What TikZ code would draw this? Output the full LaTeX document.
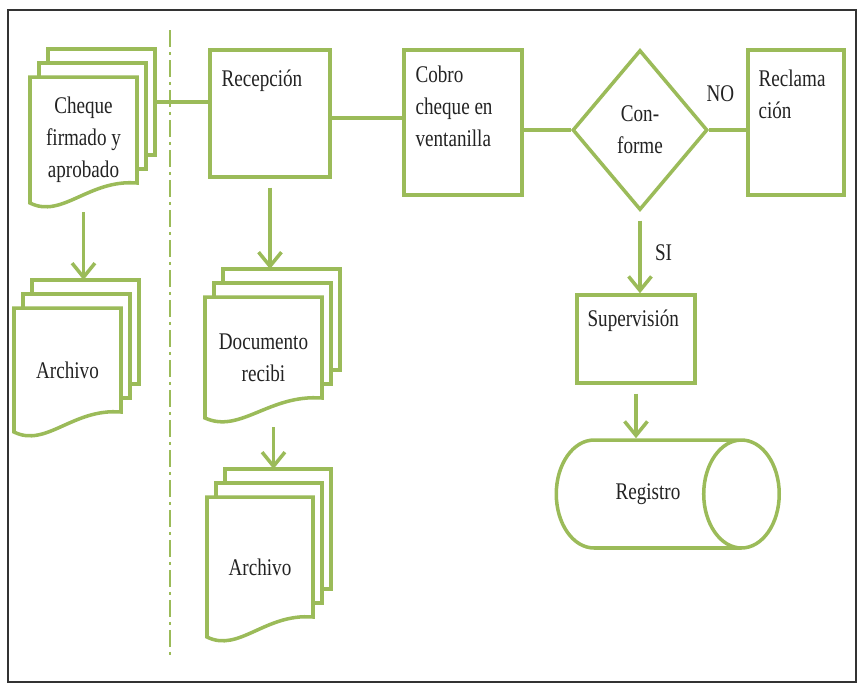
\documentclass[tikz,border=0pt]{standalone}
\usepackage{fontspec}
\setmainfont{Liberation Serif}[FakeStretch=0.8]
\usepackage{tikz}
\usetikzlibrary{positioning,shapes.geometric,arrows.meta,calc}
\definecolor{mygreen}{RGB}{155,187,89}
\definecolor{mytext}{RGB}{35,35,35}
% stack of three sheets: name, x, y, width, height, text
\newcommand{\docstack}[6]{%
  \foreach \k in {2,1}
    \draw[sheet] ({#2+9*\k},{#3-14*\k}) rectangle ++(#4,#5);
  \draw[sheet] (#2,#3) -- ({#2+#4},#3) -- ({#2+#4},{#3+#5})
    .. controls ({#2+0.55*#4},{#3+#5-4}) and ({#2+0.3*#4},{#3+#5+36}) .. (#2,{#3+#5+20}) -- cycle;
  \node[doctext,minimum width=#4*0.02cm,minimum height=(#5+20)*0.02cm] (#1) at ({#2+#4/2},{#3+(#5+20)/2}) {#6};
  \coordinate (#1-top) at ({#2+18+#4/2},{#3-28});
  \coordinate (#1-east) at ({#2+18+#4},{#3-28+#5/2});
}
\begin{document}
\begin{tikzpicture}[x=0.02cm,y=-0.02cm,
          font=\fontsize{13.6}{18.2}\selectfont,
          every node/.append style={text=mytext},
          box/.style={draw=mygreen,line width=2pt,fill=white,inner sep=0pt},
          sheet/.style={draw=mygreen,line width=2pt,fill=white},
          doctext/.style={align=center,inner sep=0pt},
          lbl/.style={anchor=north west,inner sep=0pt,align=left},
          conn/.style={mygreen,line width=2.6pt},
          arr/.style={mygreen,line width=2pt,-{Straight Barb[length=8pt,width=13pt]},shorten <=5pt}
          ]
          \useasboundingbox (0,0) rectangle (862,691);
          % the frame
          \draw[black!80,line width=0.8pt] (8,10) rectangle (856,682);
          % the divider
          \draw[mygreen,line width=1.6pt,dash pattern=on 0.34cm off 0.1cm on 0.06cm off 0.1cm] (170,30) -- (170,658);
          % the documents
          \docstack{cheque}{30}{77}{107}{106}{Cheque\\firmado y\\aprobado}
          \docstack{archA}{14}{308}{107}{104}{Archivo}
          \docstack{docrec}{205}{297}{117}{101}{Documento\\recibi}
          \docstack{archB}{207}{497}{106}{120}{Archivo}
          % the process boxes
          \node[box,minimum width=2.4cm,minimum height=2.54cm,
                label={[lbl,xshift=0.26cm,yshift=-0.42cm]north west:Recepción}] (recep) at (270,113.5) {};
          \node[box,minimum width=2.36cm,minimum height=2.9cm,
                label={[lbl,xshift=0.26cm,yshift=-0.34cm]north west:Cobro\\cheque en\\ventanilla}] (cobro) at (463,122.5) {};
          \node[box,shape=diamond,minimum width=2.7cm,minimum height=3.2cm,align=center] (cfm) at (640,130) {Con-\\forme};
          \node[box,minimum width=1.92cm,minimum height=2.9cm,
                label={[lbl,xshift=0.24cm,yshift=-0.42cm]north west:Reclama\\ción}] (reclam) at (796,122.5) {};
          \node[box,minimum width=2.36cm,minimum height=1.76cm,
                label={[lbl,xshift=0.24cm,yshift=-0.32cm]north west:Supervisión}] (superv) at (636,339) {};
          \node[box,shape=cylinder,aspect=3.6,minimum width=2.16cm,minimum height=4.46cm] (regis) at (648,494) {Registro\hspace{0.6cm}};
          % the connections
          \draw[conn] (cheque-east) -- (cheque-east -| recep.west);
          \draw[conn] ([yshift=-0.09cm]recep.east) -- ([yshift=-0.09cm]recep.east -| cobro.west);
          \draw[conn] (cobro.east |- cfm.west) -- (cfm.west);
          \draw[conn] (cfm.east) -- node[pos=0.3,above=0.4cm] (no) {NO} (cfm.east -| reclam.west);
          \draw[arr] (cheque.south) -- (cheque.south |- archA-top);
          \draw[arr] (recep.south) -- (recep.south |- docrec-top);
          \draw[arr] ([xshift=0.2cm]docrec.south) -- ([xshift=0.2cm]docrec.south |- archB-top);
          \draw[arr] (cfm.south) -- node[right=0.15cm] (si) {SI} (cfm.south |- superv.north);
          \draw[arr] (superv.south) -- (superv.south |- regis.north);
        \end{tikzpicture}
\end{document}
